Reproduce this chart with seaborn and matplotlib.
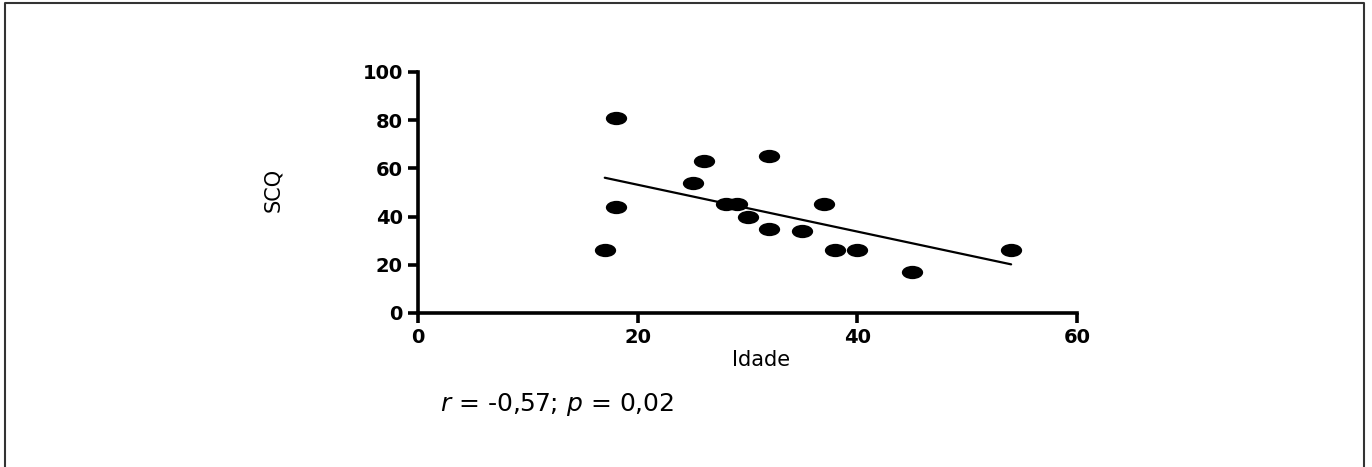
import pandas as pd
import matplotlib
matplotlib.use("Agg")
import matplotlib.pyplot as plt
from matplotlib.path import Path
from matplotlib.transforms import Affine2D
from matplotlib.lines import Line2D
import seaborn as sns

# Dados
idade = [17, 18, 18, 25, 26, 28, 29, 30, 32, 32, 35, 37, 38, 40, 45, 54]
scq = [26, 81, 44, 54, 63, 45, 45, 40, 35, 65, 34, 45, 26, 26, 17, 26]
x_ticks = [0, 20, 40, 60]
y_ticks = [0, 20, 40, 60, 80, 100]
legenda = r"$\mathit{r}$ = -0,57; $\mathit{p}$ = 0,02"

df = pd.DataFrame({"Idade": idade, "SCQ": scq})

sns.set_style("ticks")
plt.rcParams["font.family"] = ["DejaVu Sans"]
plt.rcParams["mathtext.fontset"] = "dejavusans"
plt.rcParams.update({"text.color": "black", "axes.labelcolor": "black",
                     "xtick.color": "black", "ytick.color": "black"})

# marcador elíptico (a imagem original é esticada na horizontal)
elipse = Path.unit_circle().transformed(Affine2D().scale(1.6, 1.0))

fig = plt.figure(figsize=(13.72, 4.67), dpi=100)
ax = fig.add_axes([0.3047, 0.330, 0.4803, 0.5160])

sns.regplot(data=df, x="Idade", y="SCQ", ax=ax, ci=None, color="black",
            marker=elipse, scatter_kws={"s": 235, "linewidths": 0, "alpha": 1},
            line_kws={"linewidth": 1.6})

ax.set_xlim(0, 60)
ax.set_ylim(0, 100)
ax.set_xticks(x_ticks)
ax.set_yticks(y_ticks)
sns.despine(ax=ax)
for lado in ["left", "bottom"]:
    ax.spines[lado].set_linewidth(2.6)
    ax.spines[lado].set_color("black")
ax.tick_params(width=2.6, length=7, labelsize=14, pad=4)
for rotulo in ax.get_xticklabels() + ax.get_yticklabels():
    rotulo.set_fontweight("bold")

ax.set_xlabel("Idade", fontsize=15)
ax.set_ylabel("SCQ", fontsize=15)
ax.xaxis.set_label_coords(0.52, -0.155)
ax.yaxis.set_label_coords(-0.205, 0.51)

fig.text(440 / 1372, 1 - 405 / 467, legenda, fontsize=18, va="center", ha="left")

# moldura da imagem (sem a borda inferior)
xe, xd, yt = 5 / 1372, 1364 / 1372, 1 - 3 / 467
fig.add_artist(Line2D([xe, xe, xd, xd], [0, yt, yt, 0], color="#333333",
                      linewidth=1.5, transform=fig.transFigure))

fig.savefig("out.png", dpi=100)
